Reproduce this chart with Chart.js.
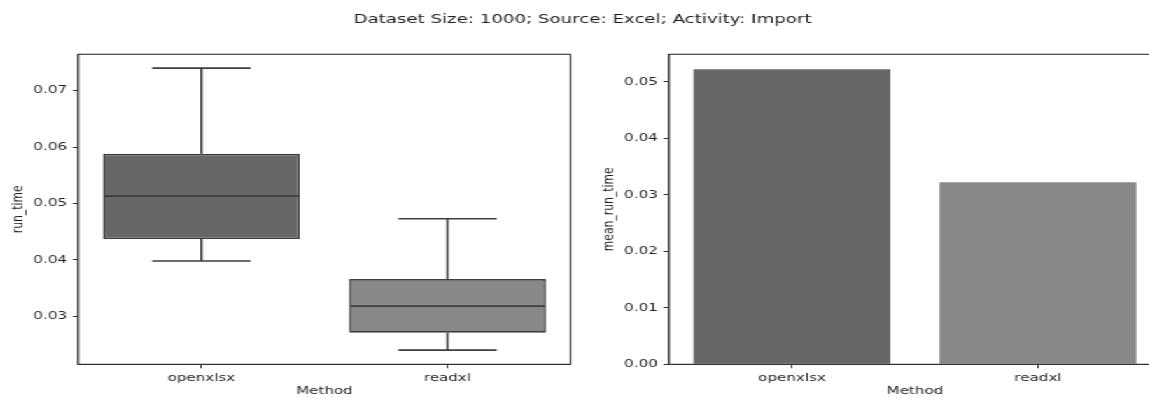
<!DOCTYPE html>
<html>
<head>
<meta charset="utf-8">
<script src="https://cdn.jsdelivr.net/npm/chart.js@4.4.1/dist/chart.umd.min.js"></script>
<style>
  html, body { margin: 0; padding: 0; overflow: hidden; background: #fff; width: 1149px; height: 398px; }
  /* the figure is laid out at a narrower width and stretched sideways */
  #fig { position: absolute; left: 0; top: 0; width: 821px; height: 398px; transform: scaleX(1.4); transform-origin: 0 0; }
  #left { position: absolute; left: 0; top: 0; }
  #right { position: absolute; left: 421.5px; top: 0; }
</style>
</head>
<body>
<div id="fig">
  <canvas id="left" width="821" height="398"></canvas>
  <canvas id="right" width="430" height="398"></canvas>
</div>
<script>
// Import run times for a 1000-row Excel file
const figureTitle = 'Dataset Size: 1000; Source: Excel; Activity: Import';
const methods = ['openxlsx', 'readxl'];

// box plot summary of run_time per method
const whiskerLow  = [0.0398, 0.0240];
const quartile1   = [0.0437, 0.0271];
const medians     = [0.0513, 0.0318];
const quartile3   = [0.0588, 0.0366];
const whiskerHigh = [0.0740, 0.0473];

// mean run_time per method
const meanRunTime = [0.0522, 0.0322];

// axis ticks
const runTimeTicks = [0.03, 0.04, 0.05, 0.06, 0.07];
const meanTicks = [0.00, 0.01, 0.02, 0.03, 0.04, 0.05];

const fills = ['#676767', '#888888'];
const LINE = '#3e3e3e';
const AXIS = '#333333';
const TEXT = '#1e1e1e';
const FONT = { family: '"DejaVu Sans", sans-serif', size: 10.8 };

// whiskers, caps and median lines drawn on top of the IQR boxes
const boxWhiskers = {
  id: 'boxWhiskers',
  afterDatasetsDraw(chart) {
    const y = chart.scales.y;
    const ctx = chart.ctx;
    const meta = chart.getDatasetMeta(0);
    ctx.save();
    ctx.strokeStyle = LINE;
    ctx.lineWidth = 1.6;
    meta.data.forEach((bar, i) => {
      const x = bar.x, half = bar.width / 2, cap = bar.width / 4;
      const pHi = y.getPixelForValue(whiskerHigh[i]);
      const pLo = y.getPixelForValue(whiskerLow[i]);
      const pQ3 = y.getPixelForValue(quartile3[i]);
      const pQ1 = y.getPixelForValue(quartile1[i]);
      const pMed = y.getPixelForValue(medians[i]);
      ctx.beginPath();
      ctx.moveTo(x, pQ3); ctx.lineTo(x, pHi);
      ctx.moveTo(x - cap, pHi); ctx.lineTo(x + cap, pHi);
      ctx.moveTo(x, pQ1); ctx.lineTo(x, pLo);
      ctx.moveTo(x - cap, pLo); ctx.lineTo(x + cap, pLo);
      ctx.moveTo(x - half + 1, pMed); ctx.lineTo(x + half - 1, pMed);
      ctx.stroke();
    });
    ctx.restore();
  }
};

// full frame around each plot area
const frame = {
  id: 'frame',
  afterDraw(chart) {
    const a = chart.chartArea, ctx = chart.ctx;
    ctx.save();
    ctx.strokeStyle = AXIS;
    ctx.lineWidth = 1.1;
    ctx.strokeRect(a.left, a.top, a.right - a.left, a.bottom - a.top);
    ctx.restore();
  }
};

// figure-level title
const suptitle = {
  id: 'suptitle',
  afterDraw(chart) {
    const ctx = chart.ctx;
    ctx.save();
    ctx.font = '13px "DejaVu Sans", sans-serif';
    ctx.fillStyle = TEXT;
    ctx.textAlign = 'center';
    ctx.textBaseline = 'middle';
    ctx.fillText(figureTitle, 416.1, 19.5);
    ctx.restore();
  }
};

function xScale() {
  return {
    type: 'category',
    afterFit(s) { s.height = 33.7; },
    ticks: { font: FONT, color: TEXT, padding: 3 },
    grid: { offset: false, drawOnChartArea: false, tickLength: 4, color: AXIS },
    border: { display: true, color: AXIS },
    title: { display: true, text: 'Method', font: FONT, color: TEXT, padding: 0 }
  };
}

function yScale(min, max, ticks, label) {
  return {
    min, max,
    afterFit(s) { s.width = 55.9; },
    afterBuildTicks(s) { s.ticks = ticks.map(v => ({ value: v })); },
    ticks: { font: FONT, color: TEXT, padding: 4, callback: v => Number(v).toFixed(2) },
    grid: { drawOnChartArea: false, tickLength: 4, color: AXIS },
    border: { display: true, color: AXIS },
    title: { display: true, text: label, font: FONT, color: TEXT, padding: 6.3 }
  };
}

const common = {
  responsive: false,
  animation: false,
  events: [],
  plugins: { legend: { display: false }, tooltip: { enabled: false } }
};

new Chart(document.getElementById('left'), {
  type: 'bar',
  data: {
    labels: methods,
    datasets: [{
      data: methods.map((m, i) => [quartile1[i], quartile3[i]]),
      backgroundColor: fills,
      borderColor: LINE,
      borderWidth: 1.6,
      borderSkipped: false,
      barPercentage: 1.0,
      categoryPercentage: 0.8
    }]
  },
  options: {
    ...common,
    layout: { padding: { left: 0, top: 54.3, right: 413.5, bottom: 0 } },
    scales: { x: xScale(), y: yScale(0.02149, 0.07645, runTimeTicks, 'run_time') }
  },
  plugins: [boxWhiskers, frame, suptitle]
});

new Chart(document.getElementById('right'), {
  type: 'bar',
  data: {
    labels: methods,
    datasets: [{
      data: meanRunTime,
      backgroundColor: fills,
      borderWidth: 0,
      barPercentage: 1.0,
      categoryPercentage: 0.8
    }]
  },
  options: {
    ...common,
    layout: { padding: { left: 0, top: 54.3, right: 22.7, bottom: 0 } },
    scales: { x: xScale(), y: yScale(0, 0.05485, meanTicks, 'mean_run_time') }
  },
  plugins: [frame]
});
</script>
</body>
</html>
